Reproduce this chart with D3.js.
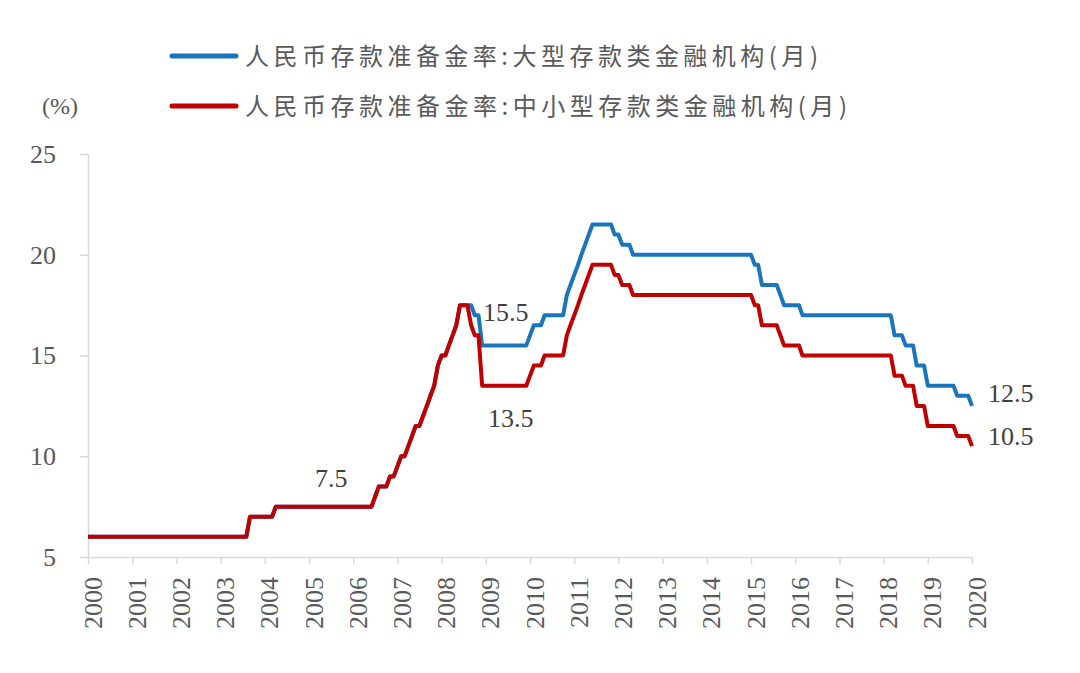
<!DOCTYPE html>
<html>
  <head>
    <meta charset="utf-8">
    <script type="text/javascript" src="https://cdn.jsdelivr.net/npm/d3@7"></script>
    <style>
      body { margin: 0; background: #fff; }
    </style>
  </head>
  <body>
    <script type="text/javascript">

// 月度数据 2000-01 ~ 2020-01
var large = [
  6,6,6,6,6,6,6,6,6,6,6,6,                              // 2000
  6,6,6,6,6,6,6,6,6,6,6,6,                              // 2001
  6,6,6,6,6,6,6,6,6,6,6,6,                              // 2002
  6,6,6,6,6,6,6,6,7,7,7,7,                              // 2003
  7,7,7,7.5,7.5,7.5,7.5,7.5,7.5,7.5,7.5,7.5,            // 2004
  7.5,7.5,7.5,7.5,7.5,7.5,7.5,7.5,7.5,7.5,7.5,7.5,      // 2005
  7.5,7.5,7.5,7.5,7.5,7.5,8,8.5,8.5,8.5,9,9,            // 2006
  9.5,10,10,10.5,11,11.5,11.5,12,12.5,13,13.5,14.5,     // 2007
  15,15,15.5,16,16.5,17.5,17.5,17.5,17.5,17,17,15.5,    // 2008
  15.5,15.5,15.5,15.5,15.5,15.5,15.5,15.5,15.5,15.5,15.5,15.5, // 2009
  16,16.5,16.5,16.5,17,17,17,17,17,17,18,18.5,          // 2010
  19,19.5,20,20.5,21,21.5,21.5,21.5,21.5,21.5,21.5,21,  // 2011
  21,20.5,20.5,20.5,20,20,20,20,20,20,20,20,            // 2012
  20,20,20,20,20,20,20,20,20,20,20,20,                  // 2013
  20,20,20,20,20,20,20,20,20,20,20,20,                  // 2014
  20,19.5,19.5,18.5,18.5,18.5,18.5,18.5,18,17.5,17.5,17.5, // 2015
  17.5,17.5,17,17,17,17,17,17,17,17,17,17,              // 2016
  17,17,17,17,17,17,17,17,17,17,17,17,                  // 2017
  17,17,17,16,16,16,15.5,15.5,15.5,14.5,14.5,14.5,      // 2018
  13.5,13.5,13.5,13.5,13.5,13.5,13.5,13.5,13,13,13,13,  // 2019
  12.5                                                  // 2020
];

var small = [
  6,6,6,6,6,6,6,6,6,6,6,6,                              // 2000
  6,6,6,6,6,6,6,6,6,6,6,6,                              // 2001
  6,6,6,6,6,6,6,6,6,6,6,6,                              // 2002
  6,6,6,6,6,6,6,6,7,7,7,7,                              // 2003
  7,7,7,7.5,7.5,7.5,7.5,7.5,7.5,7.5,7.5,7.5,            // 2004
  7.5,7.5,7.5,7.5,7.5,7.5,7.5,7.5,7.5,7.5,7.5,7.5,      // 2005
  7.5,7.5,7.5,7.5,7.5,7.5,8,8.5,8.5,8.5,9,9,            // 2006
  9.5,10,10,10.5,11,11.5,11.5,12,12.5,13,13.5,14.5,     // 2007
  15,15,15.5,16,16.5,17.5,17.5,17.5,16.5,16,16,13.5,    // 2008
  13.5,13.5,13.5,13.5,13.5,13.5,13.5,13.5,13.5,13.5,13.5,13.5, // 2009
  14,14.5,14.5,14.5,15,15,15,15,15,15,16,16.5,          // 2010
  17,17.5,18,18.5,19,19.5,19.5,19.5,19.5,19.5,19.5,19,  // 2011
  19,18.5,18.5,18.5,18,18,18,18,18,18,18,18,            // 2012
  18,18,18,18,18,18,18,18,18,18,18,18,                  // 2013
  18,18,18,18,18,18,18,18,18,18,18,18,                  // 2014
  18,17.5,17.5,16.5,16.5,16.5,16.5,16.5,16,15.5,15.5,15.5, // 2015
  15.5,15.5,15,15,15,15,15,15,15,15,15,15,              // 2016
  15,15,15,15,15,15,15,15,15,15,15,15,                  // 2017
  15,15,15,14,14,14,13.5,13.5,13.5,12.5,12.5,12.5,      // 2018
  11.5,11.5,11.5,11.5,11.5,11.5,11.5,11.5,11,11,11,11,  // 2019
  10.5                                                  // 2020
];

var months = d3.timeMonth.range(new Date(2000, 0, 1), new Date(2020, 1, 1));
var yTicks = [5, 10, 15, 20, 25];

var legendNames = [
  "人民币存款准备金率:大型存款类金融机构(月)",
  "人民币存款准备金率:中小型存款类金融机构(月)"
];
var colors = ["#1a75bc", "#c00000"];

// 图中标注的数值
var notes = [
  { date: new Date(2005, 0, 1), value: 7.5 },
  { date: new Date(2009, 0, 1), value: 15.5 },
  { date: new Date(2009, 0, 1), value: 13.5 },
  { date: new Date(2020, 0, 1), value: 12.5 },
  { date: new Date(2020, 0, 1), value: 10.5 }
];

var w = 1080;
var h = 673;

var svg =
  d3.select("body")
    .append("svg")
    .attr("width", w)
    .attr("height", h);

var x = d3.scaleTime()
    .domain([new Date(2000, 0, 1), new Date(2020, 0, 1)])
    .range([88, 972]);

var y = d3.scaleLinear()
    .domain([5, 25])
    .range([557, 154]);

// y axis
var yAxis = svg.append("g")
    .attr("transform", "translate(88,0)")
    .call(d3.axisLeft(y).tickValues(yTicks).tickSize(8).tickSizeOuter(0).tickPadding(24));
yAxis.selectAll("path, line").attr("stroke", "#d9d9d9").attr("stroke-width", 1.5);
yAxis.selectAll("text")
    .style("font-family", "'Liberation Serif', 'Times New Roman', serif")
    .style("font-size", "26px")
    .attr("fill", "#595959");

// x axis
var xAxis = svg.append("g")
    .attr("transform", "translate(0,557)")
    .call(d3.axisBottom(x).ticks(d3.timeYear.every(1)).tickFormat(d3.timeFormat("%Y")).tickSize(7).tickSizeOuter(0));
xAxis.selectAll("path, line").attr("stroke", "#d9d9d9").attr("stroke-width", 1.5);
xAxis.selectAll("text")
    .style("font-family", "'Liberation Serif', 'Times New Roman', serif")
    .style("font-size", "26px")
    .attr("fill", "#595959")
    .attr("text-anchor", "end")
    .attr("transform", "rotate(-90)")
    .attr("x", -20)
    .attr("y", 0)
    .attr("dy", "0.5em");

var line = d3.line()
    .x(function(d, i) { return x(months[i]); })
    .y(function(d) { return y(d); });

svg.append("path")
    .datum(large)
    .attr("d", line)
    .attr("fill", "none")
    .attr("stroke", colors[0])
    .attr("stroke-width", 4)
    .attr("stroke-linejoin", "round");

svg.append("path")
    .datum(small)
    .attr("d", line)
    .attr("fill", "none")
    .attr("stroke", colors[1])
    .attr("stroke-width", 4)
    .attr("stroke-linejoin", "round");

// labels
var noteOffsets = [[6, -29], [-3, -34], [2, 32], [16, -13], [16, -10]];
svg.selectAll("text.note")
    .data(notes)
    .enter()
    .append("text")
    .attr("class", "note")
    .attr("x", function(d, i) { return x(d.date) + noteOffsets[i][0]; })
    .attr("y", function(d, i) { return y(d.value) + noteOffsets[i][1]; })
    .attr("dy", "0.35em")
    .style("font-family", "'Liberation Serif', 'Times New Roman', serif")
    .style("font-size", "26px")
    .attr("fill", "#404040")
    .text(function(d) { return d.value; });

// legend
var legendY = [56, 106];
var legendLen = [573, 602];
var legend = svg.selectAll("g.legend")
    .data(legendNames)
    .enter()
    .append("g")
    .attr("class", "legend")
    .attr("transform", function(d, i) { return "translate(172," + legendY[i] + ")"; });

legend.append("line")
    .attr("x1", 0).attr("x2", 64)
    .attr("stroke", function(d, i) { return colors[i]; })
    .attr("stroke-width", 5)
    .attr("stroke-linecap", "round");

legend.append("text")
    .attr("x", 73)
    .attr("dy", "0.36em")
    .attr("textLength", function(d, i) { return legendLen[i]; })
    .attr("lengthAdjust", "spacing")
    .style("font-family", "'Noto Sans CJK SC', sans-serif")
    .style("font-size", "24px")
    .attr("fill", "#595959")
    .text(function(d) { return d; });

svg.append("text")
    .attr("x", 42)
    .attr("y", 106)
    .attr("dy", "0.35em")
    .style("font-family", "'Liberation Serif', 'Times New Roman', serif")
    .style("font-size", "24px")
    .attr("fill", "#595959")
    .text("(%)");

    </script>
  </body>
</html>
